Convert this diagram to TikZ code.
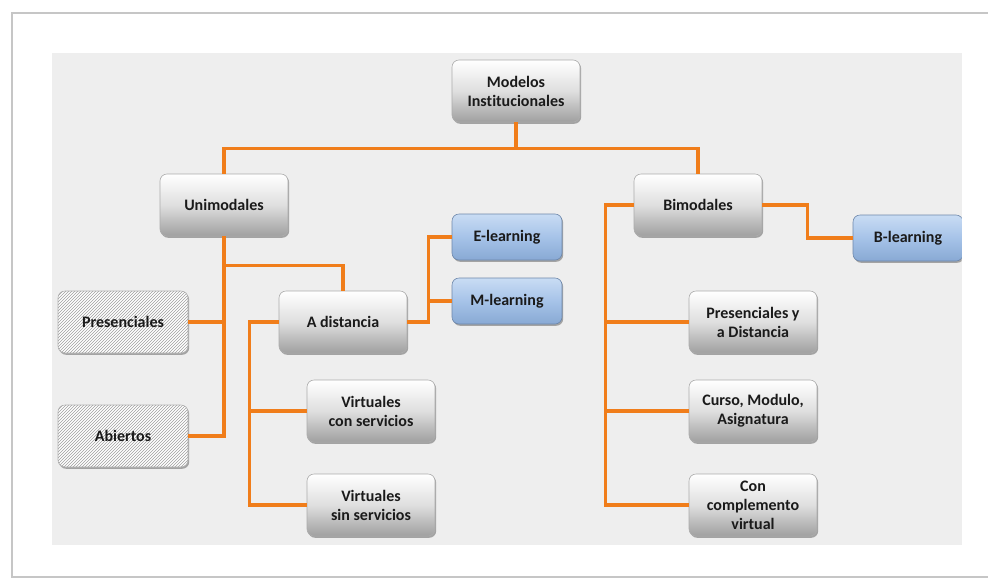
\documentclass[tikz,border=0pt]{standalone}
\usepackage{fontspec}
\setmainfont{Carlito}[Ligatures=NoCommon]
\usetikzlibrary{shadows,patterns}
\definecolor{orng}{HTML}{F07D1A}
\definecolor{panel}{HTML}{EEEEEE}
\definecolor{txt}{HTML}{1A1A1A}
\definecolor{bluetop}{HTML}{C9DCF4}
\definecolor{bluemid}{HTML}{A6C3E8}
\definecolor{bluebot}{HTML}{88A9D4}
\tikzset{
  base/.style={rounded corners=7pt, align=center, text=txt,
    font=\bfseries\fontsize{16}{19}\selectfont, inner sep=0pt,
    drop shadow={shadow xshift=1.2pt, shadow yshift=-1.8pt, fill=black!65, opacity=0.5}},
  graybox/.style={base, draw=gray!65, line width=0.6pt, minimum width=128pt, minimum height=62pt,
    top color=white, bottom color=gray!75, middle color=gray!25},
  bluebox/.style={base, draw=bluebot!80!black, line width=0.6pt, minimum width=110pt, minimum height=46pt,
    top color=bluetop, bottom color=bluebot, middle color=bluemid},
  hatchbox/.style={base, draw=gray!60, line width=0.6pt, minimum width=130pt, minimum height=62pt,
    fill=white, postaction={pattern=north east lines, pattern color=gray!75}},
  conn/.style={draw=orng, line width=3.2pt, line join=miter}
}
\begin{document}
\begin{tikzpicture}[x=1pt,y=-1pt]
\useasboundingbox (0,0) rectangle (988,579);
\fill[white] (0,0) rectangle (988,579);
\draw[gray!45, line width=1.6pt] (988,13) -- (12,13) -- (12,577) -- (988,577);
\fill[panel] (52,53) rectangle (962,545);

\node[graybox] (mod) at (516,91) {Modelos\\Institucionales};
\node[graybox] (uni) at (224,205) {Unimodales};
\node[graybox] (bim) at (698,205) {Bimodales};
\node[bluebox] (elearn) at (507,237) {E-learning};
\node[bluebox] (mlearn) at (507,301) {M-learning};
\begin{scope}
\clip (0,0) rectangle (961.5,579);
\node[bluebox] (blearn) at (908,238) {B-learning};
\end{scope}
\node[hatchbox] (pres) at (123,322) {Presenciales};
\node[hatchbox] (abi) at (123,436) {Abiertos};
\node[graybox] (adist) at (343,322) {A distancia};
\node[graybox] (vcon) at (371,411) {Virtuales\\con servicios};
\node[graybox] (vsin) at (371,505) {Virtuales\\sin servicios};
\node[graybox] (pyd) at (753,322) {Presenciales y\\a Distancia};
\node[graybox] (cur) at (753,411) {Curso, Modulo,\\Asignatura};
\node[graybox] (con) at (753,505) {Con\\complemento\\virtual};

\draw[conn] (mod.south) -- ++(0,26) -| (uni.north);
\draw[conn] (mod.south) -- ++(0,26) -| (bim.north);
\draw[conn] (uni.south) |- (pres.east);
\draw[conn] (uni.south) |- (abi.east);
\draw[conn] (uni.south) -- ++(0,29) -| (adist.north);
\draw[conn] (adist.east) -- ++(21,0) |- (elearn.west);
\draw[conn] (adist.east) -- ++(21,0) |- (mlearn.west);
\draw[conn] (adist.west) -- ++(-29,0) |- (vcon.west);
\draw[conn] (adist.west) -- ++(-29,0) |- (vsin.west);
\draw[conn] (bim.west) -- ++(-28,0) |- (pyd.west);
\draw[conn] (bim.west) -- ++(-28,0) |- (cur.west);
\draw[conn] (bim.west) -- ++(-28,0) |- (con.west);
\draw[conn] (bim.east) -- ++(45,0) |- (blearn.west);
\end{tikzpicture}
\end{document}
